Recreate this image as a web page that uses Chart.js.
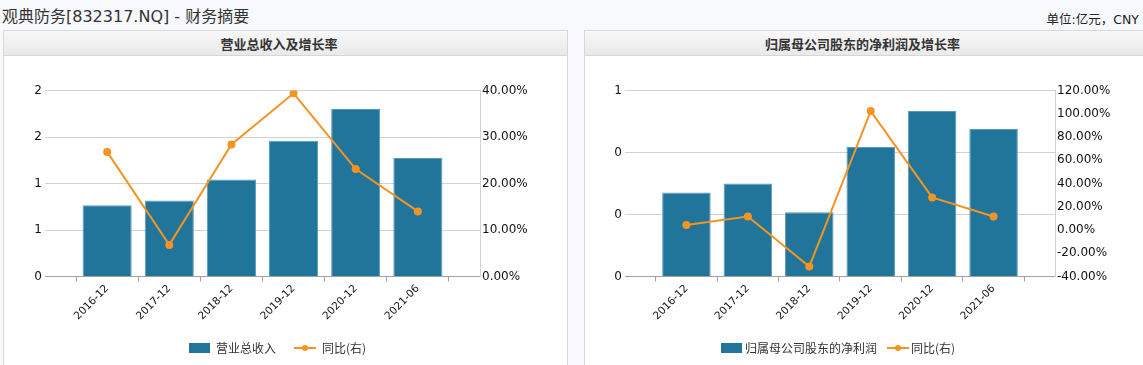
<!DOCTYPE html>
<html>
<head>
<meta charset="utf-8">
<script src="https://cdn.jsdelivr.net/npm/chart.js@4/dist/chart.umd.min.js"></script>
<style>
  html, body { margin:0; padding:0; }
  body { width:1143px; height:365px; overflow:hidden; background:#f8f9fc; position:relative;
         font-family:"DejaVu Sans","Noto Sans CJK SC",sans-serif; color:#333; }
  .title { position:absolute; left:2px; top:3px; font-size:16px; color:#333; white-space:nowrap;
           font-family:"DejaVu Sans","Noto Sans CJK SC",sans-serif; }
  .unit { position:absolute; right:4px; top:9px; font-size:12.5px; color:#222; white-space:nowrap;
          font-family:"DejaVu Sans","Noto Sans CJK SC",sans-serif; }
  .panel { position:absolute; top:30px; height:345px; background:#fff; border:1px solid #d8d8d8; box-sizing:border-box; }
  .head { position:absolute; left:0; top:0; right:0; height:24px; border-bottom:1px solid #d6d6d6;
          background:linear-gradient(#f8f8f8,#e9e9e9); }
  .head span { position:absolute; top:3px; left:0; right:13px; text-align:center; font-weight:bold;
               font-size:13px; color:#333; font-family:"Noto Sans CJK SC",sans-serif; }
  canvas { position:absolute; }
  .lg { position:absolute; top:339px; height:16px; font-size:12px; color:#333; white-space:nowrap;
        font-family:"Noto Sans CJK SC",sans-serif; }
  .sw { position:absolute; top:4px; width:21px; height:10px; background:#21759b; }
  .ln { position:absolute; top:8px; width:22px; height:2px; background:#f39423; }
  .dot { position:absolute; top:6px; width:6px; height:6px; border-radius:3px; background:#f39423; }
  .tx { position:absolute; top:0; }
</style>
</head>
<body>
<div class="title">观典防务[832317.NQ] - 财务摘要</div>
<div class="unit">单位:亿元，CNY</div>

<div class="panel" style="left:3px;width:565px;"><div class="head"><span>营业总收入及增长率</span></div></div>
<div class="panel" style="left:584px;width:570px;"><div class="head"><span>归属母公司股东的净利润及增长率</span></div></div>

<canvas id="c1" width="563" height="309" style="left:4px;top:56px;width:563px;height:309px;"></canvas>
<canvas id="c2" width="558" height="309" style="left:585px;top:56px;width:558px;height:309px;"></canvas>

<div class="lg" style="left:0;top:339px;width:400px;">
  <div class="sw" style="left:189px;"></div><div class="tx" style="left:216px;">营业总收入</div>
  <div class="ln" style="left:294px;"></div><div class="dot" style="left:302px;"></div><div class="tx" style="left:322px;">同比(右)</div>
</div>
<div class="lg" style="left:0;top:339px;width:1000px;">
  <div class="sw" style="left:721px;"></div><div class="tx" style="left:745px;">归属母公司股东的净利润</div>
  <div class="ln" style="left:887px;"></div><div class="dot" style="left:895px;"></div><div class="tx" style="left:911px;">同比(右)</div>
</div>

<script>
// ---- data ----
const categories = ['2016-12', '2017-12', '2018-12', '2019-12', '2020-12', '2021-06'];
const revenue = [0.765, 0.818, 1.043, 1.46, 1.80, 1.275];          // 营业总收入 (亿元)
const revenueYoY = [26.8, 6.8, 28.4, 39.4, 23.1, 14.0];             // 同比 (%)
const netProfit = [0.271, 0.300, 0.207, 0.418, 0.534, 0.476];       // 归属母公司股东的净利润 (亿元)
const netProfitYoY = [4.4, 11.6, -31.5, 102.3, 28.0, 11.6];         // 同比 (%)
const barName1 = '营业总收入';
const barName2 = '归属母公司股东的净利润';
const lineName = '同比(右)';

// pad with an empty slot on each side (the reference leaves one empty category each side)
const pad = a => [null, ...a, null];
const labels = ['', ...categories, ''];

const BAR = '#21759b', LINE = '#f39423', GRID = '#d2d2d2', AXIS = '#a0a0a0';
const tickFont = { family: 'DejaVu Sans', size: 12 };

function makeChart(id, barName, bars, yoy, leftMax, leftStep, rMin, rMax, rStep, leftW, rightW) {
  return new Chart(document.getElementById(id), {
    data: {
      labels: labels,
      datasets: [
        { type: 'line', label: lineName, data: pad(yoy), yAxisID: 'y1', borderColor: LINE, backgroundColor: LINE,
          borderWidth: 2, pointRadius: 4, pointHoverRadius: 4, pointBorderWidth: 0, tension: 0, order: 0 },
        { type: 'bar', label: barName, data: pad(bars), yAxisID: 'y', backgroundColor: BAR,
          borderColor: '#5a9bbb', borderWidth: 1, categoryPercentage: 1, barPercentage: 0.79, order: 1 }
      ]
    },
    options: {
      responsive: false, animation: false, maintainAspectRatio: false,
      layout: { padding: { top: 34.5, left: 0, right: 0, bottom: 0 } },
      plugins: { legend: { display: false }, tooltip: { enabled: false } },
      scales: {
        x: {
          type: 'category', offset: false,
          grid: { drawOnChartArea: false, drawTicks: true, tickLength: 5, color: AXIS },
          border: { color: AXIS },
          ticks: { autoSkip: false, minRotation: 45, maxRotation: 45, padding: 1,
                   font: { family: 'DejaVu Sans', size: 10.5 }, color: '#111' },
          afterFit: s => { s.height = 88.5; }
        },
        y: {
          position: 'left', min: 0, max: leftMax,
          ticks: { stepSize: leftStep, font: tickFont, color: '#111', padding: 3,
                   callback: v => String(Math.round(v)) },
          grid: { color: GRID, drawTicks: false },
          border: { display: false },
          afterFit: s => { s.width = leftW; }
        },
        y1: {
          position: 'right', min: rMin, max: rMax,
          ticks: { stepSize: rStep, font: tickFont, color: '#111', padding: 2,
                   callback: v => v.toFixed(2) + '%' },
          grid: { drawOnChartArea: false, drawTicks: false },
          border: { display: true, color: GRID },
          afterFit: s => { s.width = rightW; }
        }
      }
    }
  });
}

makeChart('c1', barName1, revenue, revenueYoY, 2, 0.5, 0, 40, 10, 41, 87);
makeChart('c2', barName2, netProfit, netProfitYoY, 0.6, 0.2, -40, 120, 20, 40, 88);
</script>
</body>
</html>
